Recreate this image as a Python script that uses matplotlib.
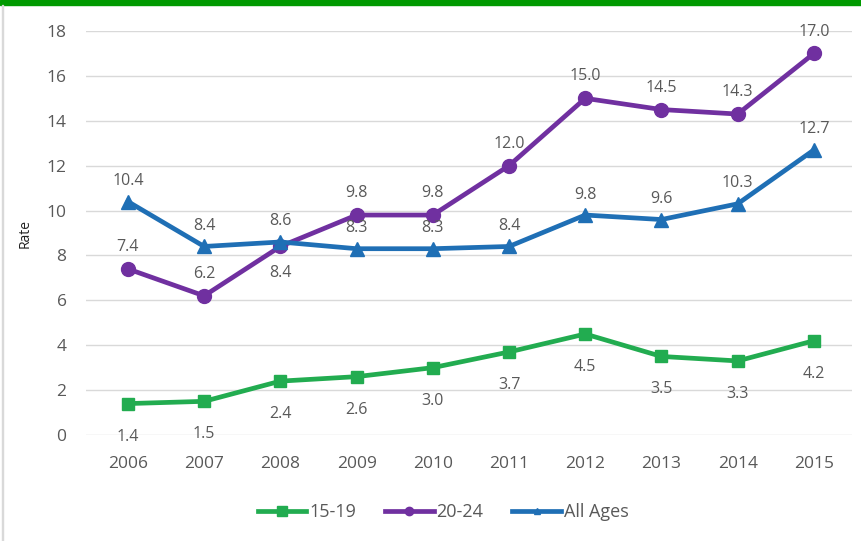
import matplotlib
matplotlib.use("Agg")
import matplotlib.pyplot as plt
from matplotlib.lines import Line2D
from matplotlib.patches import Rectangle

years = ["2006", "2007", "2008", "2009", "2010", "2011", "2012", "2013", "2014", "2015"]
s1519 = [1.4, 1.5, 2.4, 2.6, 3.0, 3.7, 4.5, 3.5, 3.3, 4.2]
s2024 = [7.4, 6.2, 8.4, 9.8, 9.8, 12.0, 15.0, 14.5, 14.3, 17.0]
sall = [10.4, 8.4, 8.6, 8.3, 8.3, 8.4, 9.8, 9.6, 10.3, 12.7]
yticks = [0, 2, 4, 6, 8, 10, 12, 14, 16, 18]

plt.rcParams['font.family'] = ['Open Sans', 'DejaVu Sans']
txt = '#595959'
c_g = '#22ac50'
c_p = '#7030a0'
c_b = '#1f6fb5'

fig = plt.figure(figsize=(8.62, 5.41), dpi=100)
fig.patches.append(Rectangle((0, 1 - 5/541), 1, 5/541, transform=fig.transFigure,
                             color='#009a00', zorder=10))
fig.patches.append(Rectangle((2/862, 0), 1.5/862, 1 - 5/541, transform=fig.transFigure,
                             color='#d9d9d9', zorder=10))

ax = fig.add_axes([86/862, 1 - 435/541, (852 - 86)/862, (435 - 31)/541])
x = list(range(len(years)))

ax.plot(x, s1519, color=c_g, lw=3.4, marker='s', ms=8, zorder=3)
ax.plot(x, s2024, color=c_p, lw=3.4, marker='o', ms=10, zorder=3)
ax.plot(x, sall, color=c_b, lw=3.4, marker='^', ms=10, zorder=4)

ax.set_xlim(-0.55, 9.5)
ax.set_ylim(0, 18)
ax.set_yticks(yticks)
ax.set_xticks(x)
ax.set_xticklabels(years)
ax.grid(axis='y', color='#d9d9d9', lw=1)
ax.set_axisbelow(True)
for s in ax.spines.values():
    s.set_visible(False)
ax.tick_params(length=0, colors=txt, labelsize=12.5)
ax.tick_params(axis='x', pad=15)
ax.tick_params(axis='y', pad=14)
ax.set_ylabel('Rate', color='#222222', fontsize=10, labelpad=10)

fs = 11.5
for i, v in enumerate(s1519):
    ax.annotate(f"{v:.1f}", (i, v), xytext=(0, -18), textcoords='offset points',
                ha='center', va='top', color=txt, fontsize=fs, zorder=5)
for i, v in enumerate(s2024):
    if i == 2:
        ax.annotate(f"{v:.1f}", (i, v), xytext=(0, -13), textcoords='offset points',
                    ha='center', va='top', color=txt, fontsize=fs, zorder=5)
    else:
        ax.annotate(f"{v:.1f}", (i, v), xytext=(0, 10), textcoords='offset points',
                    ha='center', va='bottom', color=txt, fontsize=fs, zorder=5)
for i, v in enumerate(sall):
    ax.annotate(f"{v:.1f}", (i, v), xytext=(0, 9), textcoords='offset points',
                ha='center', va='bottom', color=txt, fontsize=fs, zorder=5)

handles = [
    Line2D([], [], color=c_g, lw=3.4, marker='s', ms=7),
    Line2D([], [], color=c_p, lw=3.4, marker='o', ms=6),
    Line2D([], [], color=c_b, lw=3.4, marker='^', ms=5),
]
fig.legend(handles, ["15-19", "20-24", "All Ages"], loc='center',
           bbox_to_anchor=(443/862, 1 - 512/541), ncol=3, frameon=False,
           fontsize=13, labelcolor=txt, handlelength=2.7, handletextpad=0.15,
           columnspacing=1.6)

fig.savefig("out.png", dpi=100)
